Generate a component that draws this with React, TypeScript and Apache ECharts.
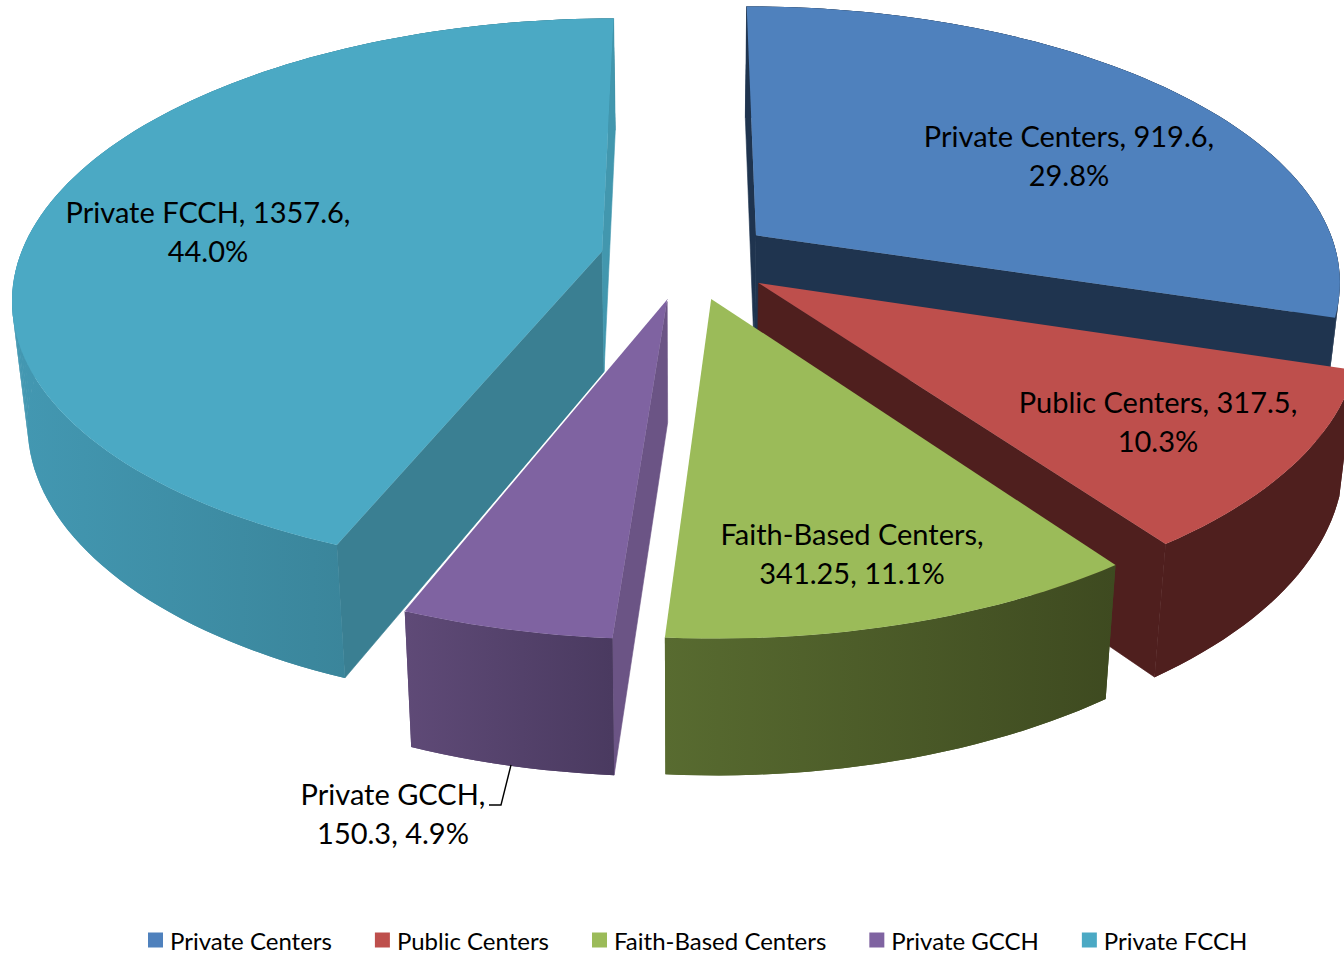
import React, { useEffect, useRef } from "react";
import * as echarts from "echarts";

const categories = ["Private Centers", "Public Centers", "Faith-Based Centers", "Private GCCH", "Private FCCH"];
const values = [919.6, 317.5, 341.25, 150.3, 1357.6];
const topColors = ["#4F81BD", "#BE4F4C", "#9BBB59", "#7F63A1", "#4BA9C4"];
const rimFrom = ["#1F344F", "#4F1F1E", "#586B30", "#5F4A77", "#4398B2"];
const rimTo = ["#1F344F", "#4F1F1E", "#3E4A20", "#4A3A60", "#337688"];
const startWall = ["#1F344F", "#4F1F1E", "#3E4A20", "#6B5485", "#3A7F92"];
const endWall = ["#1F344F", "#4F1F1E", "#3E4A20", "#6B5485", "#4297AE"];
const showStartWall = [true, false, false, true, true];
const showEndWall = [true, true, false, false, true];
const labelCenters = [[1069, 135], [1158, 401], [852, 533], [393, 793], [208, 211]];
const breakAfterName = [false, false, true, true, false];
const drawOrder = [0, 4, 1, 3, 2];

const CX = 687, CY = 259, A = 583, B = 272, K = 0.158, EXPLODE = 0.149;
const total = values.reduce((a, b) => a + b, 0);

function project(X: number, Y: number) {
  const s = 1 / (1 - K * Y);
  return [CX + A * X * s, CY + B * Y * s];
}
function drop(p: number[]) {
  return [CX + (p[0] - CX) * 0.977, p[1] * 1.0405 + 111];
}
function sliceAngles(i: number) {
  const before = values.slice(0, i).reduce((a, b) => a + b, 0);
  return [(before / total) * 360, ((before + values[i]) / total) * 360];
}
function slicePoints(i: number) {
  const [a0, a1] = sliceAngles(i);
  const mid = (((a0 + a1) / 2) * Math.PI) / 180;
  const ox = Math.sin(mid) * EXPLODE, oy = -Math.cos(mid) * EXPLODE;
  const apex = project(ox, oy);
  const arc: number[][] = [];
  const n = Math.max(4, Math.ceil((a1 - a0) / 1.5));
  for (let j = 0; j <= n; j++) {
    const t = ((a0 + ((a1 - a0) * j) / n) * Math.PI) / 180;
    arc.push(project(ox + Math.sin(t), oy - Math.cos(t)));
  }
  return { apex, arc };
}
function wall(a: number[], b: number[], fill: string) {
  return {
    type: "polygon",
    shape: { points: [a, b, drop(b), drop(a)] },
    style: { fill, stroke: fill, lineWidth: 0.6 },
  };
}
function labelText(i: number) {
  const pct = ((values[i] / total) * 100).toFixed(1) + "%";
  return breakAfterName[i]
    ? `${categories[i]},\n${values[i]}, ${pct}`
    : `${categories[i]}, ${values[i]},\n${pct}`;
}

function renderSlice(i: number) {
  const { apex, arc } = slicePoints(i);
  const first = arc[0], last = arc[arc.length - 1];
  const xs = arc.map((p) => p[0]);
  const x0 = Math.min(...xs), x1 = Math.max(...xs);
  const gradient = () =>
    new echarts.graphic.LinearGradient(x0, 0, x1, 0, [
      { offset: 0, color: rimFrom[i] },
      { offset: 1, color: rimTo[i] },
    ], true);
  const children: any[] = [];
  if (showStartWall[i]) children.push(wall(apex, first, startWall[i]));
  if (showEndWall[i] && i !== 4) children.push(wall(apex, last, endWall[i]));
  children.push({
    type: "polygon",
    shape: { points: [...arc, ...arc.map(drop).reverse()] },
    style: { fill: gradient() },
  });
  for (let j = 0; j + 1 < arc.length; j++) {
    children.push({
      type: "polygon",
      shape: { points: [arc[j], arc[j + 1], drop(arc[j + 1]), drop(arc[j])] },
      style: { fill: gradient() },
    });
  }
  if (showEndWall[i] && i === 4) children.push(wall(apex, last, endWall[i]));
  if (i === 3) {
    children.push({
      type: "line",
      shape: { x1: apex[0], y1: apex[1], x2: last[0], y2: last[1] },
      style: { stroke: "#FFFFFF", lineWidth: 3 },
    });
    children.push({
      type: "polyline",
      shape: { points: [[511, 765], [501, 805], [489, 805]] },
      style: { stroke: "#000000", lineWidth: 1.4, fill: "none" },
    });
  }
  children.push({
    type: "polygon",
    shape: { points: [apex, ...arc] },
    style: { fill: topColors[i] },
  });
  children.push({
    type: "text",
    style: {
      text: labelText(i),
      x: labelCenters[i][0],
      y: labelCenters[i][1] - 19,
      align: "center",
      verticalAlign: "top",
      fill: "#000000",
      font: "29px Lato",
      lineHeight: 39,
    },
  });
  return { type: "group", children };
}

export default function App() {
  const ref = useRef<HTMLDivElement>(null);
  useEffect(() => {
    document.body.style.margin = "0";
    const chart = echarts.init(ref.current!, undefined, { renderer: "svg" });
    chart.setOption({
      animation: false,
      backgroundColor: "#FFFFFF",
      legend: {
        show: true,
        data: categories.map((name) => ({ name })),
        left: 148,
        top: 928,
        padding: 0,
        icon: "rect",
        itemWidth: 15,
        itemHeight: 15,
        itemGap: 43,
        textStyle: { fontFamily: "Lato", fontSize: 24, color: "#000000", padding: [0, 0, 0, 2] },
        selectedMode: false,
      },
      series: drawOrder.map((i) => ({
        type: "custom",
        name: categories[i],
        coordinateSystem: "none",
        silent: true,
        clip: false,
        itemStyle: { color: topColors[i] },
        data: [[values[i]]],
        renderItem: () => renderSlice(i),
      })),
    });
    return () => chart.dispose();
  }, []);
  return <div ref={ref} style={{ position: "absolute", left: 0, top: 0, width: 1344, height: 956 }} />;
}
